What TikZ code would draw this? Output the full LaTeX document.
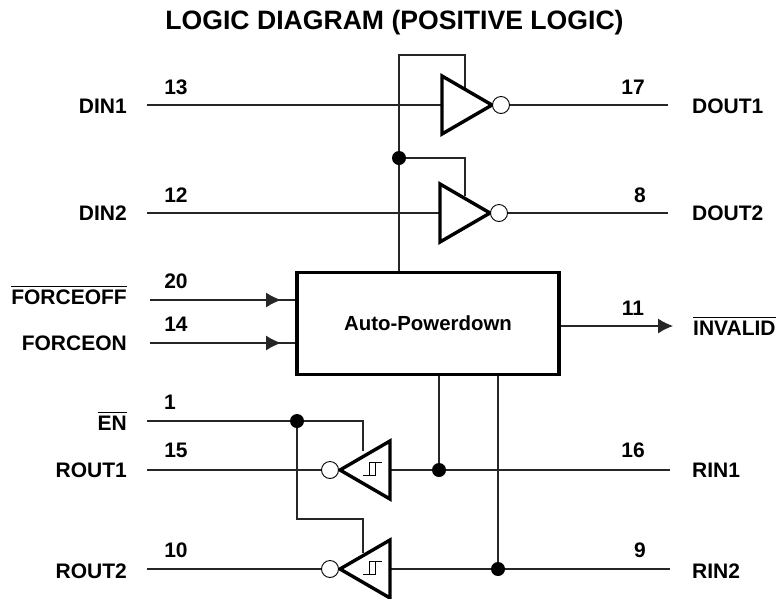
\documentclass[tikz,border=0pt]{standalone}
\usepackage{fontspec}
\setmainfont{Liberation Sans}
\usetikzlibrary{arrows.meta,shapes.geometric,backgrounds}
\tikzset{%
  font=\fontsize{21}{23}\bfseries\selectfont,
  wire/.style     = { draw, line width=1.1pt, black!85 },
  pinarrow/.style = { draw, line width=1.1pt, black!85, -{Latex[length=15pt,width=15pt]} },
  pin/.style      = { inner sep=0pt },
  leftname/.style = { pin, anchor=east },
  rightname/.style= { pin, anchor=west },
  driver/.style   = { draw, line width=3.4pt, isosceles triangle, isosceles triangle stretches,
                      isosceles triangle apex angle=60, minimum width=58pt, minimum height=50pt,
                      inner sep=0pt, outer sep=0pt, anchor=apex, miter limit=4 },
  receiver/.style = { driver, shape border rotate=180 },
  bubble/.style   = { draw, line width=0.9pt, circle, fill=white, minimum size=17pt, inner sep=0pt },
  dot/.style      = { fill=black, circle, minimum size=14pt, inner sep=0pt },
  powerbox/.style = { draw, line width=3.4pt, rectangle, minimum width=262pt, minimum height=102pt, inner sep=0pt }
}
\newcommand{\barred}[1]{\setbox0=\hbox{#1}\rlap{\smash{\raisebox{17.5pt}{\rule{\wd0}{1.2pt}}}}\box0}
\newcommand{\hyst}[2]{%
  \draw[line width=0.9pt] (#1-6,#2+6.5) -- (#1+6,#2+6.5) -- (#1+6,#2-7);
  \draw[line width=0.9pt] (#1,#2+6.5) -- (#1,#2-7) -- (#1+13,#2-7);
}
\begin{document}
\begin{tikzpicture}[x=1pt,y=-1pt]
	\useasboundingbox (0,0) rectangle (777,598);
	\node[pin,anchor=base] (title) at (394.5,29) {\fontsize{26.6}{28}\bfseries\selectfont LOGIC DIAGRAM (POSITIVE LOGIC)};

	% drivers
	\node[driver] (drv1) at (492,105) {};
	\node[driver] (drv2) at (490,213) {};
	\node[bubble] (drv1out) at (501,105) {};
	\node[bubble] (drv2out) at (499,213) {};

	% receivers
	\node[receiver] (rcv1) at (340,470) {};
	\node[receiver] (rcv2) at (340,569) {};
	\node[bubble] (rcv1out) at (330,470) {};
	\node[bubble] (rcv2out) at (330,569) {};
	\hyst{369}{469}
	\hyst{369}{568}

	\node[powerbox] (apd) at (428,323.5) {\fontsize{20.4}{22}\bfseries\selectfont Auto-Powerdown};

	% pin names
	\node[leftname] (din1) at (127,106) {DIN1};
	\node[leftname] (din2) at (127,213) {DIN2};
	\node[leftname] (forceoff) at (127,297) {\barred{FORCEOFF}};
	\node[leftname] (forceon) at (127,343) {FORCEON};
	\node[leftname] (en) at (127,423) {\barred{EN}};
	\node[leftname] (rout1) at (127,470) {ROUT1};
	\node[leftname] (rout2) at (127,571) {ROUT2};
	\node[rightname] (dout1) at (692,106) {DOUT1};
	\node[rightname] (dout2) at (692,213) {DOUT2};
	\node[rightname] (invalid) at (693,328) {\barred{INVALID}};
	\node[rightname] (rin1) at (692,470) {RIN1};
	\node[rightname] (rin2) at (692,571) {RIN2};

	% pin numbers
	\node[pin] (n13) at (176,87) {13};
	\node[pin] (n12) at (176,195) {12};
	\node[pin] (n20) at (176,281) {20};
	\node[pin] (n14) at (176,324) {14};
	\node[pin] (n1) at (170,402) {1};
	\node[pin] (n15) at (176,450) {15};
	\node[pin] (n10) at (176,550) {10};
	\node[pin] (n17) at (633,87) {17};
	\node[pin] (n8) at (640,195) {8};
	\node[pin] (n11) at (633,308) {11};
	\node[pin] (n16) at (633,450) {16};
	\node[pin] (n9) at (640,550) {9};

	% free ends
	\coordinate (din1in) at (147,105);
	\coordinate (din2in) at (147,213);
	\coordinate (forceoffin) at (150,300);
	\coordinate (forceonin) at (150,343);
	\coordinate (enin) at (147,421);
	\coordinate (rout1end) at (147,470);
	\coordinate (rout2end) at (147,569);
	\coordinate (dout1end) at (668,105);
	\coordinate (dout2end) at (668,213);
	\coordinate (invalidend) at (673,326);
	\coordinate (rin1in) at (670,470);
	\coordinate (rin2in) at (670,569);
	\coordinate (forceofftip) at (281,300);
	\coordinate (forceontip) at (281,343);
	\coordinate (rail) at (399,55);

	\node[dot] (railtap) at (399,158) {};
	\node[dot] (entap) at (297,421) {};
	\node[dot] (rin1tap) at (439,470) {};
	\node[dot] (rin2tap) at (498,569) {};

	% connectors
	\begin{scope}[on background layer]
	\draw[wire] (din1in) -- (drv1.west |- din1in);
	\draw[wire] (din2in) -- (drv2.west |- din2in);
	\draw[wire] (drv1out) -- (dout1end);
	\draw[wire] (drv2out) -- (dout2end);
	\draw[wire] (apd.north -| rail) -- (rail) -- (465,55) -- (465,88);
	\draw[wire] (railtap) -- (465,158) -- (465,196);
	\draw[wire] (forceoffin) -- (apd.west |- forceofftip);
	\draw[pinarrow] (forceoffin) -- (forceofftip);
	\draw[wire] (forceonin) -- (apd.west |- forceontip);
	\draw[pinarrow] (forceonin) -- (forceontip);
	\draw[pinarrow] (apd.east |- invalidend) -- (invalidend);
	\draw[wire] (rout1end) -- (rcv1out);
	\draw[wire] (rout2end) -- (rcv2out);
	\draw[wire] (rcv1.east |- rin1in) -- (rin1in);
	\draw[wire] (rcv2.east |- rin2in) -- (rin2in);
	\draw[wire] (apd.south -| rin1tap) -- (rin1tap);
	\draw[wire] (apd.south -| rin2tap) -- (rin2tap);
	\draw[wire] (enin) -- (363,421) -- (363,451);
	\draw[wire] (entap) -- (297,519) -- (363,519) -- (363,553);
	\end{scope}
\end{tikzpicture}
\end{document}
